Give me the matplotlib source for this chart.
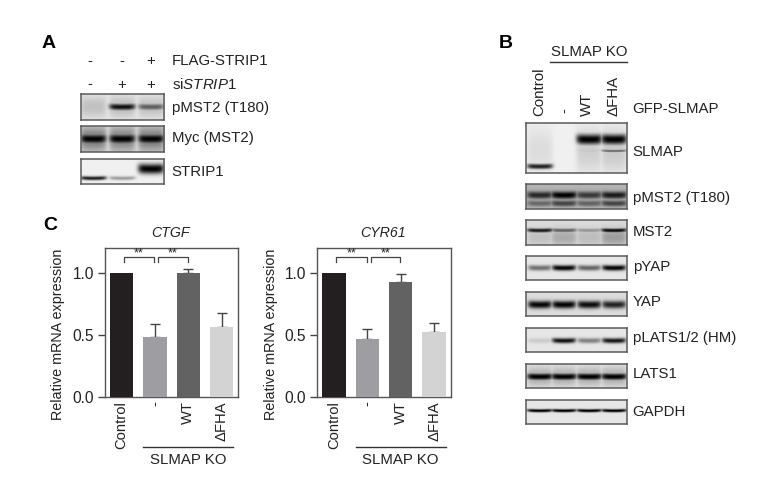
import numpy as np
import matplotlib
matplotlib.use("Agg")
import matplotlib.pyplot as plt

plt.rcParams['font.family'] = ['Liberation Sans', 'DejaVu Sans']
plt.rcParams['mathtext.fontset'] = 'custom'
plt.rcParams['mathtext.rm'] = 'Liberation Sans'
plt.rcParams['mathtext.it'] = 'Liberation Sans:italic'

W, H = 780, 492
TXT = '#222222'
EDGE = '#5a5a5a'

# ---- bar data (panel C)
CATEGORIES = ['Control', '-', 'WT', '\u0394FHA']
BAR_COLORS = ['#231f20', '#9d9da2', '#626262', '#d3d3d3']
CTGF_VALUES = [1.0, 0.485, 1.0, 0.565]
CTGF_ERR_TOP = [None, 0.59, 1.03, 0.68]
CYR61_VALUES = [1.0, 0.47, 0.93, 0.525]
CYR61_ERR_TOP = [None, 0.545, 0.99, 0.60]
YTICKS = [0.0, 0.5, 1.0]

# ---- blot band strengths, per lane
A_PMST2 = [0.08, 0.95, 0.6]
A_PMST2_HAZE = [0.16, 0.18, 0.16]
A_MYC = [1.0, 1.0, 1.0]
A_MYC_HAZE = [0.45, 0.42, 0.45]
A_STRIP_LOW = [0.9, 0.35, 0.0]
A_STRIP_HIGH = [0.0, 0.0, 1.0]
B_SLMAP_LOW = [0.85, 0.0, 0.0, 0.0]
B_SLMAP_HIGH = [0.0, 0.0, 1.0, 1.0]
B_SLMAP_FAINT = [0.0, 0.0, 0.18, 0.55]
B_SLMAP_HAZE = [0.08, 0.0, 0.14, 0.16]
B_PMST2 = [0.78, 1.0, 0.68, 0.85]
B_PMST2_LOW = [0.42, 0.62, 0.45, 0.62]
B_MST2 = [0.88, 0.55, 0.32, 0.95]
B_MST2_HAZE = [0.12, 0.22, 0.14, 0.28]
B_PYAP = [0.5, 0.97, 0.55, 0.97]
B_YAP = [0.98, 1.0, 0.95, 0.85]
B_PLATS = [0.12, 0.95, 0.45, 0.92]
B_LATS1 = [1.0, 1.0, 1.0, 1.0]
B_LATS1_HAZE = [0.25, 0.25, 0.25, 0.25]
B_GAPDH = [1.0, 1.0, 1.0, 1.0]


def px_axes(l, t, r, b, **kw):
    return fig.add_axes([l / W, 1 - b / H, (r - l) / W, (b - t) / H], **kw)


def blot(l, t, r, b, lane_x, half, bg, layers):
    """layers: list of (y fraction, sigma in px, strengths per lane)."""
    w, h = int(round(r - l)), int(round(b - t))
    xx, yy = np.meshgrid(np.arange(w) + 0.5 + l, np.arange(h) + 0.5)
    dark = np.zeros_like(xx)
    for yf, sig, strengths in layers:
        for cx, s in zip(lane_x, strengths):
            dx = (xx - cx) / half
            mask = np.exp(-dx ** 6)
            yc = yf * h - 0.5 * dx ** 2
            dark = np.maximum(dark, s * mask * np.exp(-np.abs((yy - yc) / sig) ** 2.2))
    img = bg * (1 - dark)
    ax = px_axes(l, t, r, b)
    ax.imshow(img, cmap='gray', vmin=0, vmax=1, aspect='auto', interpolation='bilinear')
    ax.set_xticks([])
    ax.set_yticks([])
    for s in ax.spines.values():
        s.set_color(EDGE)
        s.set_linewidth(1.1)
    return ax


def bars(l, r, values, err_top):
    ax = px_axes(l, 248, r, 397)
    x = np.arange(len(values))
    ax.bar(x, values, width=0.7, color=BAR_COLORS, linewidth=0, zorder=3)
    for xi, v, top in zip(x, values, err_top):
        if top is not None:
            ax.errorbar(xi, v, yerr=[[0], [top - v]], color='#444444', capsize=3.7,
                        elinewidth=1.0, capthick=1.0, fmt='none', zorder=2)
    ax.set_xlim(-0.5, 3.5)
    ax.set_ylim(0, 1.2)
    ax.set_yticks(YTICKS, [f'{v:.1f}' for v in YTICKS])
    ax.set_xticks(x, CATEGORIES, rotation=90)
    ax.tick_params(axis='x', length=0, pad=3, labelsize=10.6, labelcolor=TXT)
    ax.tick_params(axis='y', length=5, width=1, color='#444444', pad=3, labelsize=11.2, labelcolor=TXT)
    for s in ax.spines.values():
        s.set_color('#555555')
        s.set_linewidth(1.0)
    for (x0, x1), xs in (((0.07, 0.98), 0.52), ((1.10, 1.98), 1.54)):
        ax.plot([x0, x0, x1, x1], [1.085, 1.13, 1.13, 1.085], color='#444444', lw=0.9, zorder=4)
        ax.text(xs, 1.105, '**', ha='center', va='bottom', fontsize=9, color=TXT)
    return ax


fig = plt.figure(figsize=(W / 100, H / 100), dpi=100)

# Panel A blots
LANES_A = [93, 121.5, 150]
blot(80.7, 94.3, 164, 119.7, LANES_A, 13, 0.90,
     [(0.5, 3.0, A_PMST2), (0.5, 10, A_PMST2_HAZE)])
blot(80.7, 126.3, 164, 151.7, LANES_A, 13, 0.86,
     [(0.5, 4.6, A_MYC), (0.5, 12, A_MYC_HAZE)])
blot(80.7, 159, 164, 184.3, LANES_A, 13, 0.94,
     [(0.78, 1.8, A_STRIP_LOW), (0.42, 4.8, A_STRIP_HIGH)])

# Panel B blots
LANES_B = [540, 564, 589.3, 614]
BL, BR = 526, 627
blot(BL, 123.3, BR, 173, LANES_B, 13, 0.94,
     [(0.87, 2.6, B_SLMAP_LOW), (0.33, 5.2, B_SLMAP_HIGH), (0.56, 1.5, B_SLMAP_FAINT),
      (0.55, 22, B_SLMAP_HAZE)])
blot(BL, 183.7, BR, 208.7, LANES_B, 13, 0.70, [(0.45, 3.6, B_PMST2), (0.78, 3.0, B_PMST2_LOW)])
blot(BL, 220, BR, 245, LANES_B, 13, 0.86, [(0.42, 2.0, B_MST2), (0.7, 9, B_MST2_HAZE)])
blot(BL, 255.7, BR, 280.3, LANES_B, 12, 0.90, [(0.52, 2.8, B_PYAP)])
blot(BL, 291.7, BR, 316, LANES_B, 12, 0.86, [(0.55, 3.6, B_YAP)])
blot(BL, 327.7, BR, 352, LANES_B, 12, 0.90, [(0.55, 2.4, B_PLATS)])
blot(BL, 363.7, BR, 388.3, LANES_B, 13, 0.90, [(0.55, 3.4, B_LATS1), (0.55, 10, B_LATS1_HAZE)])
blot(BL, 399.7, BR, 424.3, LANES_B, 13, 0.90, [(0.47, 1.6, B_GAPDH)])

# Panel C bars
bars(105, 238.3, CTGF_VALUES, CTGF_ERR_TOP)
bars(317.3, 450.7, CYR61_VALUES, CYR61_ERR_TOP)

# Overlay for text and rules, in pixel coordinates
ov = fig.add_axes([0, 0, 1, 1], zorder=10)
ov.set_xlim(0, W)
ov.set_ylim(H, 0)
ov.axis('off')
ov.patch.set_alpha(0)


def T(x, y, s, size=10.8, ha='left', va='center', **kw):
    ov.text(x, y, s, fontsize=size, ha=ha, va=va, color=kw.pop('color', TXT), **kw)


for x, y, s in ((48.5, 44, 'A'), (506, 43, 'B'), (50, 225, 'C')):
    T(x, y, s, size=14, ha='center', weight='bold', color='black')

for x, a, b in ((90, '-', '-'), (121.5, '-', '+'), (151, '+', '+')):
    T(x, 61, a, ha='center')
    T(x, 84.5, b, ha='center')
T(171.7, 61, 'FLAG-STRIP1')
T(171.7, 84.5, r'si$\mathit{STRIP1}$')
T(171.7, 107.7, 'pMST2 (T180)')
T(171.7, 137.7, 'Myc (MST2)')
T(171.7, 171.7, 'STRIP1')

T(589, 51.7, 'SLMAP KO', ha='center')
ov.plot([550, 627], [61.7, 61.7], color='#333333', lw=1.0)
for x, s in ((539, 'Control'), (564.7, '-'), (587, 'WT'), (614, '\u0394FHA')):
    T(x, 115.7 if s != '-' else 113, s, ha='center', va='bottom', rotation=90)
T(632.7, 109, 'GFP-SLMAP')
for y, s in ((151.7, 'SLMAP'), (198, 'pMST2 (T180)'), (231.7, 'MST2'), (266.7, 'pYAP'),
             (302, 'YAP'), (338, 'pLATS1/2 (HM)'), (374, 'LATS1'), (412, 'GAPDH')):
    T(632.7, y, s)

for cx, s in ((170, 'CTGF'), (383, 'CYR61')):
    T(cx, 232.7, s, ha='center', style='italic', size=10.2)
for x in (58, 271):
    T(x, 334, 'Relative mRNA expression', ha='center', rotation=90, size=10.4)
for x0, x1, cx in ((143, 233, 188), (355.7, 445.7, 400)):
    ov.plot([x0, x1], [447, 447], color='#333333', lw=1.0)
    T(cx, 460, 'SLMAP KO', ha='center')

fig.savefig('out.png', dpi=100)
